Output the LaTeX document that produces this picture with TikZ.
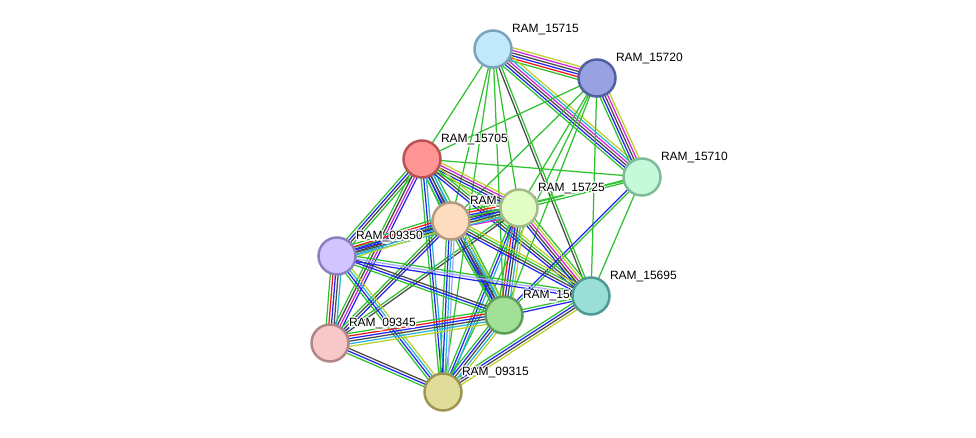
\documentclass[tikz,border=0pt]{standalone}
\usepackage{fontspec}
\setmainfont{Liberation Sans}
\usepackage{contour}
\contourlength{1.1pt}
\usetikzlibrary{calc,backgrounds}
% evidence channels
\definecolor{sgreen}{HTML}{2EC22E}
\definecolor{sred}{HTML}{F01818}
\definecolor{sblue}{HTML}{2424F0}
\definecolor{sdark}{HTML}{484848}
\definecolor{smag}{HTML}{D424D4}
\definecolor{scyan}{HTML}{28B4D8}
\definecolor{syell}{HTML}{BCD028}
\definecolor{slav}{HTML}{A8A8FF}
% protein fills / borders
\definecolor{fa}{HTML}{C2E8FC}\definecolor{da}{HTML}{78A4C0}
\definecolor{fb}{HTML}{98A2E0}\definecolor{db}{HTML}{5060A0}
\definecolor{fc}{HTML}{FF9494}\definecolor{dc}{HTML}{B85454}
\definecolor{fd}{HTML}{C4FADA}\definecolor{dd}{HTML}{7EBC98}
\definecolor{fe}{HTML}{E2FEC4}\definecolor{de}{HTML}{A4BC88}
\definecolor{ff}{HTML}{FEDCC0}\definecolor{df}{HTML}{B49C80}
\definecolor{fg}{HTML}{D2C4FE}\definecolor{dg}{HTML}{8C80C0}
\definecolor{fh}{HTML}{9ADED8}\definecolor{dh}{HTML}{4E9A92}
\definecolor{fi}{HTML}{A2E098}\definecolor{di}{HTML}{5E9E5A}
\definecolor{fj}{HTML}{F8C8C8}\definecolor{dj}{HTML}{B08686}
\definecolor{fk}{HTML}{E0DC9A}\definecolor{dk}{HTML}{9C9650}

\newcommand\strlink[3]{%
  \foreach \cc [count=\nn] in {#3} {\xdef\nlink{\nn}}%
  \foreach \cc [count=\ii] in {#3} {%
    \pgfmathsetmacro\off{(\ii-(\nlink+1)/2)*2.6}%
    \draw[link,color=\cc] ($(#1)!\off pt!90:(#2)$) -- ($(#2)!\off pt!-90:(#1)$);
  }}

\begin{document}
\begin{tikzpicture}[
  x=1pt,y=-1pt,
  prot/.style={circle,minimum size=37pt,inner sep=0pt,line width=2.5pt},
  lbl/.style={font=\fontsize{12}{14}\selectfont,inner sep=1pt,label distance=0.5pt,xshift=3.5pt,yshift=-3pt},
  link/.style={line width=1.25pt}
]
  \useasboundingbox (0,0) rectangle (976,438);
  \node[prot,fill=fa,draw=da,label={[lbl]45:\contour{white}{RAM\_15715}}] (p15715) at (493,49) {};
  \node[prot,fill=fb,draw=db,label={[lbl]45:\contour{white}{RAM\_15720}}] (p15720) at (597,78) {};
  \node[prot,fill=fc,draw=dc,label={[lbl]45:\contour{white}{RAM\_15705}}] (p15705) at (422,159) {};
  \node[prot,fill=fd,draw=dd,label={[lbl]45:\contour{white}{RAM\_15710}}] (p15710) at (642,177) {};
  \node[prot,fill=ff,draw=df,label={[lbl]45:\contour{white}{RAM\_09340}}] (p09340) at (451,221) {};
  \node[prot,fill=fe,draw=de,label={[lbl]45:\contour{white}{RAM\_15725}}] (p15725) at (519,208) {};
  \node[prot,fill=fg,draw=dg,label={[lbl]45:\contour{white}{RAM\_09350}}] (p09350) at (337,256) {};
  \node[prot,fill=fi,draw=di,label={[lbl]45:\contour{white}{RAM\_15690}}] (p15690) at (504,315) {};
  \node[prot,fill=fh,draw=dh,label={[lbl]45:\contour{white}{RAM\_15695}}] (p15695) at (591,296) {};
  \node[prot,fill=fj,draw=dj,label={[lbl]45:\contour{white}{RAM\_09345}}] (p09345) at (330,343) {};
  \node[prot,fill=fk,draw=dk,label={[lbl]45:\contour{white}{RAM\_09315}}] (p09315) at (443,392) {};

  \begin{scope}[on background layer]
    \strlink{p15715}{p15720}{sgreen,sred,sblue,sdark,smag,syell}
    \strlink{p15715}{p15710}{sgreen,sblue,sdark,smag,scyan,syell}
    \strlink{p15715}{p15705}{sgreen}
    \strlink{p15715}{p09340}{sgreen}
    \strlink{p15715}{p09315}{sgreen}
    \strlink{p15715}{p15690}{sgreen}
    \strlink{p15715}{p15725}{sgreen}
    \strlink{p15715}{p15695}{sdark,sgreen}
    \strlink{p15720}{p15710}{sgreen,sblue,sdark,smag,syell}
    \strlink{p15720}{p15705}{sgreen}
    \strlink{p15720}{p15725}{sgreen}
    \strlink{p15720}{p09340}{sgreen}
    \strlink{p15720}{p15690}{sgreen}
    \strlink{p15720}{p15695}{sgreen}
    \strlink{p15720}{p09315}{sgreen}
    \strlink{p15705}{p15710}{sgreen}
    \strlink{p15705}{p09340}{sgreen,sblue,sdark,scyan}
    \strlink{p15705}{p15725}{sgreen,sblue,sdark,smag,syell}
    \strlink{p15705}{p09350}{sgreen,sblue,sdark,sgreen}
    \strlink{p15705}{p09345}{sgreen,sdark,smag,sblue}
    \strlink{p15705}{p15690}{sgreen,sblue,sdark,scyan,sgreen}
    \strlink{p15705}{p15695}{sblue,sdark,sgreen,syell}
    \strlink{p15705}{p09315}{sgreen,sblue,scyan}
    \strlink{p15710}{p15725}{sgreen,sgreen}
    \strlink{p15710}{p09340}{sgreen}
    \strlink{p15710}{p15695}{sgreen}
    \strlink{p15710}{p15690}{sblue,sgreen}
    \strlink{p15725}{p09340}{sgreen,sred,sblue,sdark,scyan,syell,smag}
    \strlink{p15725}{p09350}{sgreen,sblue,sdark,scyan}
    \strlink{p15725}{p15695}{sblue,sdark,smag,syell,sgreen}
    \strlink{p15725}{p15690}{sgreen,sred,sblue,sdark,scyan,syell}
    \strlink{p15725}{p09345}{sgreen,sdark}
    \strlink{p15725}{p09315}{sgreen,sblue,scyan}
    \strlink{p09340}{p09350}{sgreen,sred,sblue,sdark,scyan,syell}
    \strlink{p09340}{p15690}{sgreen,sblue,sdark,scyan,syell}
    \strlink{p09340}{p15695}{sblue,sdark,sgreen,syell}
    \strlink{p09340}{p09345}{sgreen,sdark,sblue}
    \strlink{p09340}{p09315}{sgreen,sblue,scyan,slav}
    \strlink{p09350}{p09345}{sgreen,sred,sblue,sdark,scyan}
    \strlink{p09350}{p09315}{sgreen,sblue,scyan,syell}
    \strlink{p09350}{p15690}{sgreen,sblue,sdark}
    \strlink{p09350}{p15695}{sblue,slav,sgreen}
    \strlink{p15695}{p15690}{sgreen,sblue}
    \strlink{p15695}{p09315}{sgreen,sblue,sdark,syell}
    \strlink{p15690}{p09345}{sgreen,sred,sblue,sdark,scyan,syell}
    \strlink{p15690}{p09315}{sgreen,sblue,sdark,scyan,syell}
    \strlink{p09345}{p09315}{sgreen,sblue,sdark}
  \end{scope}
\end{tikzpicture}
\end{document}
